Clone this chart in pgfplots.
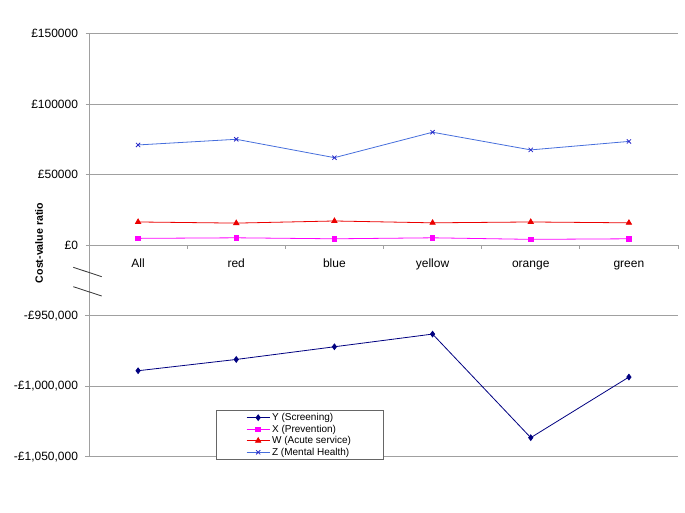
\documentclass[border=0pt]{standalone}
\usepackage{fontspec}
\setmainfont{Liberation Sans}
\usepackage{pgfplots}
\pgfplotsset{compat=1.18}
\definecolor{navyY}{RGB}{0,0,128}
\definecolor{magX}{RGB}{255,0,255}
\definecolor{redW}{RGB}{235,0,0}
\definecolor{blueZ}{RGB}{70,110,220}
\definecolor{blueZm}{RGB}{40,40,200}
\definecolor{gridc}{RGB}{160,160,160}
\pgfplotsset{
  base/.style={
    scale only axis, width=589pt,
    xmin=-0.5, xmax=5.5,
    axis x line*=bottom, axis y line*=left,
    axis line style={draw=gridc, line width=0.8pt},
    ymajorgrids, major grid style={draw=gridc, line width=0.8pt},
    tick align=outside, major tick length=3.5pt,
    tick style={draw=gridc, line width=0.8pt},
    y tick label style={font=\fontsize{12}{14}\selectfont, xshift=-4pt},
    scaled y ticks=false,
    clip=false,
  },
  Ystyle/.style={color=navyY, line width=0.8pt, mark=diamond*, mark size=2.8pt, mark options={fill=navyY, draw=navyY}},
  Xstyle/.style={color=magX, line width=0.8pt, mark=square*, mark size=2.3pt, mark options={fill=magX, draw=magX}},
  Wstyle/.style={color=redW, line width=0.8pt, mark=triangle*, mark size=3pt, mark options={fill=redW, draw=redW}},
  Zstyle/.style={color=blueZ, line width=0.8pt, mark=x, mark size=3pt, mark options={draw=blueZm, line width=0.8pt}},
}
\begin{document}
\begin{tikzpicture}
\path[use as bounding box] (0pt,0pt) rectangle (685pt,513pt);
% upper part of the broken axis
\begin{axis}[base,
  at={(89pt,267.7pt)}, anchor=south west, height=212pt,
  ymin=0, ymax=150000,
  ytick={0,50000,100000,150000},
  yticklabels={£0,£50000,£100000,£150000},
  xtick={-0.5,0.5,1.5,2.5,3.5,4.5,5.5},
  x tick label as interval,
  xticklabels={All,red,blue,yellow,orange,green},
  x tick label style={font=\fontsize{12}{14}\selectfont, text height=9pt, text depth=2.5pt, yshift=-6pt},
]
\addplot[Xstyle] coordinates {(0,4900) (1,5300) (2,4600) (3,5300) (4,4200) (5,4600)};
\addplot[Wstyle] coordinates {(0,16500) (1,15700) (2,17200) (3,15900) (4,16500) (5,15900)};
\addplot[Zstyle] coordinates {(0,71000) (1,75000) (2,62000) (3,80000) (4,67500) (5,73500)};
\end{axis}
% lower part of the broken axis
\begin{axis}[base,
  at={(89pt,56.3pt)}, anchor=south west, height=211.4pt,
  ymin=-1050000, ymax=-900000,
  ytick={-1050000,-1000000,-950000},
  yticklabels={{-£1,050,000},{-£1,000,000},{-£950,000}},
  xtick=\empty,
  legend style={at={(0.2156,0.2209)}, anchor=north west,
    draw=gray!80!black, line width=0.6pt,
    font=\fontsize{10}{11}\selectfont,
    inner xsep=30pt, inner ysep=1pt,
    row sep=-1.2pt},
  legend cell align=left,
  legend image code/.code={\draw[mark repeat=2,mark phase=2] plot coordinates {(0pt,0pt)(11.5pt,0pt)(23pt,0pt)};},
]
\addplot[Ystyle] coordinates {(0,-989000) (1,-981000) (2,-972000) (3,-963000) (4,-1036500) (5,-993500)};
\addlegendentry{Y (Screening)}
\addlegendimage{Xstyle}
\addlegendentry{X (Prevention)}
\addlegendimage{Wstyle}
\addlegendentry{W (Acute service)}
\addlegendimage{Zstyle}
\addlegendentry{Z (Mental Health)}
\end{axis}
% axis break marks
\draw[line width=0.8pt, black!80] (73.3pt,245.7pt) -- (101.7pt,236.3pt);
\draw[line width=0.8pt, black!80] (73.3pt,226.3pt) -- (101.7pt,217pt);
\node[rotate=90, font=\bfseries\fontsize{10.6}{12}\selectfont] at (39pt,270pt) {Cost-value ratio};
\end{tikzpicture}
\end{document}
